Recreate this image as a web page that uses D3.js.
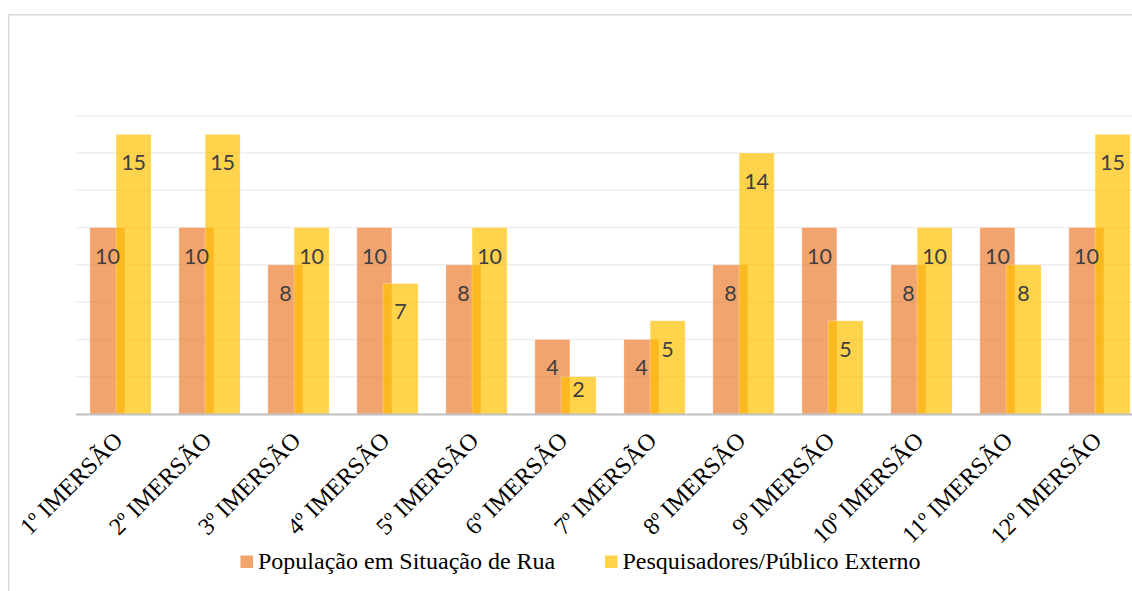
<!DOCTYPE html>
<html>
<head>
<meta charset="utf-8">
<script src="https://cdn.jsdelivr.net/npm/d3@7"></script>
<style>
  html, body { margin: 0; padding: 0; background: #fff; }
  svg { display: block; }
</style>
</head>
<body>
<svg id="chart" width="1132" height="591"></svg>
<script>
// Participants per immersion
const categories = ["1º IMERSÃO", "2º IMERSÃO", "3º IMERSÃO", "4º IMERSÃO", "5º IMERSÃO", "6º IMERSÃO",
                    "7º IMERSÃO", "8º IMERSÃO", "9º IMERSÃO", "10º IMERSÃO", "11º IMERSÃO", "12º IMERSÃO"];
const seriesNames = ["População em Situação de Rua", "Pesquisadores/Público Externo"];
const populacao = [10, 10, 8, 10, 8, 4, 4, 8, 10, 8, 10, 10];
const pesquisadores = [15, 15, 10, 7, 10, 2, 5, 14, 5, 10, 8, 15];
const gridTicks = [2, 4, 6, 8, 10, 12, 14, 16];

const colors = ["#ED7D31", "#FFC000"];
const series = [populacao, pesquisadores];

const svg = d3.select("#chart");

// Outer chart frame
svg.append("path")
  .attr("d", "M8.75,600 V14.75 H1140")
  .attr("fill", "none")
  .attr("stroke", "#d9d9d9")
  .attr("stroke-width", 1.5);

const plotLeft = 76, plotRight = 1144, yBase = 414, yTop = 115.7;

const x = d3.scaleBand().domain(categories).range([plotLeft, plotRight]).padding(0);
const y = d3.scaleLinear().domain([0, 16]).range([yBase, yTop]);

const step = x.step();
const barW = step * 0.393;
const overlap = barW * 0.25;
const groupW = 2 * barW - overlap;
const groupOffset = (step - groupW) / 2;
const barX = (cat, s) => x(cat) + groupOffset + s * (barW - overlap);

// Gridlines
svg.append("g")
  .selectAll("line")
  .data(gridTicks)
  .join("line")
  .attr("x1", plotLeft).attr("x2", 1132)
  .attr("y1", d => y(d)).attr("y2", d => y(d))
  .attr("stroke", "#eeeeee")
  .attr("stroke-width", 1.5);

// Bars (semi-transparent so the overlap darkens)
series.forEach((vals, s) => {
  svg.append("g")
    .selectAll("rect")
    .data(vals.map((v, i) => ({ cat: categories[i], v })))
    .join("rect")
    .attr("x", d => barX(d.cat, s))
    .attr("y", d => y(d.v))
    .attr("width", barW)
    .attr("height", d => y(0) - y(d.v))
    .attr("fill", colors[s])
    .attr("fill-opacity", 0.7)
    .attr("stroke", "#ffffff")
    .attr("stroke-opacity", 0.35)
    .attr("stroke-width", 0.75);
});

// Category axis line
svg.append("line")
  .attr("x1", plotLeft).attr("x2", 1132)
  .attr("y1", yBase + 0.5).attr("y2", yBase + 0.5)
  .attr("stroke", "#bfbfbf")
  .attr("stroke-width", 2);

// Value labels, inside the end of each bar
series.forEach((vals, s) => {
  svg.append("g")
    .selectAll("text")
    .data(vals.map((v, i) => ({ cat: categories[i], v })))
    .join("text")
    .attr("x", d => barX(d.cat, s) + barW / 2)
    .attr("y", d => Math.min(y(d.v) + 36, y(0) - 17))
    .attr("text-anchor", "middle")
    .attr("font-family", "Lato, 'Noto Sans', sans-serif")
    .attr("font-size", 21.5)
    .attr("fill", "#404040")
    .text(d => d.v);
});

// Rotated category labels
svg.append("g")
  .selectAll("text")
  .data(categories)
  .join("text")
  .attr("transform", d => `translate(${x(d) + step / 2 + 3.5},${yBase + 28}) rotate(-45)`)
  .attr("text-anchor", "end")
  .attr("font-family", "'Liberation Serif', 'Times New Roman', serif")
  .attr("font-size", 24)
  .attr("fill", "#000")
  .text(d => d);

// Legend
const legendItems = [
  { name: seriesNames[0], color: colors[0], x: 240.5 },
  { name: seriesNames[1], color: colors[1], x: 605 }
];
const lg = svg.append("g").selectAll("g").data(legendItems).join("g")
  .attr("transform", d => `translate(${d.x},555.5)`);
lg.append("rect")
  .attr("width", 12.5).attr("height", 12.5)
  .attr("fill", d => d.color)
  .attr("fill-opacity", 0.7);
lg.append("text")
  .attr("x", 17.5).attr("y", 13.5)
  .attr("font-family", "'Liberation Serif', 'Times New Roman', serif")
  .attr("font-size", 24)
  .attr("fill", "#000")
  .text(d => d.name);
</script>
</body>
</html>
